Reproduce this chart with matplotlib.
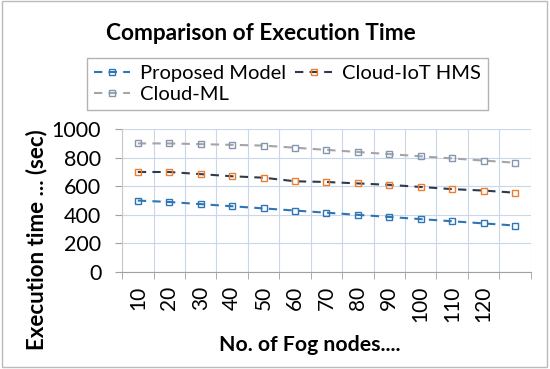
import matplotlib
matplotlib.use("Agg")
import matplotlib.pyplot as plt
import numpy as np
from matplotlib.patches import Rectangle

plt.rcParams['font.family'] = ['Lato', 'DejaVu Sans']

categories = ['10', '20', '30', '40', '50', '60', '70', '80', '90', '100', '110', '120', '']
proposed = [500, 490, 475, 460, 445, 430, 415, 400, 385, 370, 355, 340, 325]
cloud_iot = [700, 700, 685, 670, 660, 635, 630, 620, 610, 595, 580, 570, 555]
cloud_ml = [900, 900, 895, 890, 885, 870, 855, 840, 825, 810, 795, 780, 765]

fig = plt.figure(figsize=(5.5, 3.69), dpi=100)
ax = fig.add_axes([0.222, 0.263, 0.743, 0.387])

x = np.arange(len(categories))
l1, = ax.plot(x, proposed, color='#2E75B6', ls=(0, (4, 3)), lw=1.5, marker='s', ms=5,
              mfc='none', mec='#2E75B6', mew=1.0, label='Proposed Model')
l2, = ax.plot(x, cloud_iot, color='#2F3B4C', ls=(0, (4, 3)), lw=1.5, marker='s', ms=5,
              mfc='none', mec='#ED7D31', mew=1.0, label='Cloud-IoT HMS')
l3, = ax.plot(x, cloud_ml, color='#A5A5A5', ls=(0, (4, 3)), lw=1.5, marker='s', ms=5,
              mfc='none', mec='#8497B0', mew=1.0, label='Cloud-ML')

ax.set_xlim(-0.5, len(categories) - 0.5)
ax.set_ylim(0, 1000)
ax.set_yticks(np.arange(0, 1001, 200))
ax.set_xticks(x)
ax.set_xticklabels(categories, rotation=90, fontsize=15)
ax.set_xticks(np.arange(-0.5, len(categories), 1), minor=True)
ax.tick_params(axis='x', which='major', length=0, pad=10)
ax.tick_params(axis='x', which='minor', length=5, color='#A0A0A0', direction='out')
ax.tick_params(axis='y', labelsize=15.5, length=5, color='#A0A0A0', pad=10)
ax.grid(True, axis='y', color='#C9D7EC', lw=0.8)
ax.grid(True, axis='x', which='minor', color='#C9D7EC', lw=0.8)
ax.set_axisbelow(True)
for s in ['top', 'right']:
    ax.spines[s].set_visible(False)
ax.spines['bottom'].set_color('#A0A0A0')
ax.spines['left'].set_color('#C8C8C8')

fig.text(37 / 550, 1 - 240 / 369, 'Execution time ... (sec)', rotation=90,
         ha='center', va='center', fontsize=16, fontweight='bold')
fig.text(310 / 550, 1 - 345 / 369, 'No. of Fog nodes....', ha='center', va='center',
         fontsize=15.3, fontweight='bold')
fig.text(261 / 550, 1 - 34 / 369, 'Comparison of Execution Time', ha='center', va='center',
         fontsize=16.3, fontweight='bold')

leg = fig.legend([l1, l3, l2], ['Proposed Model', 'Cloud-ML', 'Cloud-IoT HMS'],
                 loc='upper left', bbox_to_anchor=(0.158, 0.843), ncol=2, fontsize=14.5,
                 frameon=True, fancybox=False, edgecolor='#A0A0A0', handlelength=1.8,
                 handletextpad=0.5, columnspacing=0.45, borderpad=0.35, labelspacing=0.2,
                 borderaxespad=0)
leg.get_frame().set_linewidth(1.0)

fig.patches.append(Rectangle((0.004, 0.006), 0.99, 0.99, transform=fig.transFigure,
                             fill=False, edgecolor='#BBBBBB', lw=1.0))

fig.savefig('out.png', dpi=100)
